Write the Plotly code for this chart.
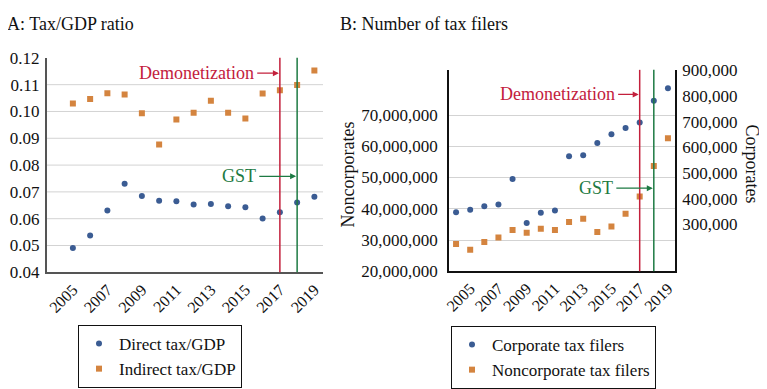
import plotly.graph_objects as go

# ---------------- data ----------------
years_a = [2005, 2006, 2007, 2008, 2009, 2010, 2011, 2012, 2013, 2014, 2015, 2016, 2017, 2018, 2019]
direct_tax_gdp = [0.0491, 0.0537, 0.0631, 0.0730, 0.0685, 0.0667, 0.0665, 0.0653, 0.0655,
                  0.0646, 0.0643, 0.0601, 0.0624, 0.0660, 0.0682]
indirect_tax_gdp = [0.1030, 0.1047, 0.1068, 0.1063, 0.0993, 0.0877, 0.0970, 0.0995, 0.1040,
                    0.0995, 0.0974, 0.1067, 0.1079, 0.1099, 0.1153]

years_b = [2004, 2005, 2006, 2007, 2008, 2009, 2010, 2011, 2012, 2013, 2014, 2015, 2016, 2017, 2018, 2019]
corporate_filers = [348000, 357000, 371000, 378000, 477000, 306000, 346000, 354000,
                    565000, 569000, 617000, 651000, 675000, 696000, 781000, 829000]
noncorporate_filers = [28.7e6, 26.9e6, 29.4e6, 30.8e6, 33.2e6, 32.3e6, 33.6e6, 33.2e6,
                       35.8e6, 36.8e6, 32.6e6, 34.3e6, 38.4e6, 43.9e6, 53.7e6, 62.6e6]

tick_years = [2005, 2007, 2009, 2011, 2013, 2015, 2017, 2019]
ratio_ticks = [0.04, 0.05, 0.06, 0.07, 0.08, 0.09, 0.10, 0.11, 0.12]
ratio_tick_text = ["0.04", "0.05", "0.06", "0.07", "0.08", "0.09", "0.10", "0.11", "0.12"]
ratio_grid = [0.05, 0.06, 0.07, 0.08, 0.09, 0.10, 0.11]
noncorp_ticks = [20e6, 30e6, 40e6, 50e6, 60e6, 70e6]
corp_ticks = [300000, 400000, 500000, 600000, 700000, 800000, 900000]

demonetization_year = 2017
gst_year = 2018

# ---------------- style ----------------
# the page body has an 8px margin, so the figure is drawn 8px in from the window edge
OFF = 8
W, H = 767 - OFF, 389 - OFF
FONT = "Liberation Serif"
BLUE = "#3b5c93"
ORANGE = "#d4843f"
RED = "#c3203c"
GREEN = "#1d7a43"
GRID = "#d3d3d3"


def px(x):
    return (x - OFF) / W


def py(y):
    return 1 - (y - OFF) / H


fig = go.Figure()

fig.add_trace(go.Scatter(x=years_a, y=direct_tax_gdp, mode="markers", name="Direct tax/GDP",
                         marker=dict(symbol="circle", size=6, color=BLUE),
                         xaxis="x", yaxis="y", legend="legend"))
fig.add_trace(go.Scatter(x=years_a, y=indirect_tax_gdp, mode="markers", name="Indirect tax/GDP",
                         marker=dict(symbol="square", size=6, color=ORANGE),
                         xaxis="x", yaxis="y", legend="legend"))
fig.add_trace(go.Scatter(x=years_b, y=corporate_filers, mode="markers", name="Corporate tax filers",
                         marker=dict(symbol="circle", size=6, color=BLUE),
                         xaxis="x2", yaxis="y3", legend="legend2"))
fig.add_trace(go.Scatter(x=years_b, y=noncorporate_filers, mode="markers", name="Noncorporate tax filers",
                         marker=dict(symbol="square", size=6, color=ORANGE),
                         xaxis="x2", yaxis="y2", legend="legend2"))

xcommon = dict(range=[2003.5, 2019.5], tickvals=tick_years, tickangle=-45, ticks="",
               showgrid=False, zeroline=False, automargin=False,
               tickfont=dict(family=FONT, size=16, color="#111"))

fig.update_layout(
    width=W, height=H,
    margin=dict(l=0, r=0, t=0, b=0),
    paper_bgcolor="white", plot_bgcolor="white",
    font=dict(family=FONT, size=17, color="#111"),
    xaxis=dict(domain=[px(47), px(323)], anchor="y", showline=True, linecolor="#555",
               linewidth=2, **xcommon),
    yaxis=dict(domain=[py(273), py(58)], anchor="x", range=[0.04, 0.12], tickvals=ratio_ticks,
               ticktext=ratio_tick_text, showgrid=False, zeroline=False, showline=True,
               linecolor="#555", linewidth=2, ticks="", ticklabelstandoff=2, automargin=False,
               tickfont=dict(family=FONT, size=17, color="#111")),
    xaxis2=dict(domain=[px(449), px(675)], anchor="y2", showline=True, linecolor="#111",
                linewidth=1.5, **xcommon),
    yaxis2=dict(domain=[py(272), py(70)], anchor="x2", range=[20e6, 84.45e6], tickvals=noncorp_ticks,
                tickformat=",", showgrid=True, gridcolor=GRID, gridwidth=1, zeroline=False,
                showline=True, linecolor="#111", linewidth=1.5, ticks="", ticklabelstandoff=6,
                automargin=False, tickfont=dict(family=FONT, size=17, color="#111")),
    yaxis3=dict(overlaying="y2", side="right", anchor="x2", range=[118000, 901000], tickvals=corp_ticks,
                tickformat=",", showgrid=False, zeroline=False, showline=True, linecolor="#111",
                linewidth=1.5, ticks="", ticklabelstandoff=2, automargin=False,
                tickfont=dict(family=FONT, size=17, color="#111")),
    legend=dict(x=px(78), y=py(325), xanchor="left", yanchor="top", bordercolor="#111", borderwidth=1,
                bgcolor="white", font=dict(family=FONT, size=17, color="#111"), itemwidth=30,
                tracegroupgap=0),
    legend2=dict(x=px(451), y=py(327), xanchor="left", yanchor="top", bordercolor="#111", borderwidth=1,
                 bgcolor="white", font=dict(family=FONT, size=17, color="#111"), itemwidth=30,
                 tracegroupgap=0),
    showlegend=True,
)

shapes = []
for g in ratio_grid:
    shapes.append(dict(type="line", xref="x domain", yref="y", x0=0, x1=1, y0=g, y1=g,
                       line=dict(color=GRID, width=1), layer="below"))
for xr, yr in [("x", "y domain"), ("x2", "y2 domain")]:
    shapes.append(dict(type="line", xref=xr, yref=yr, x0=demonetization_year, x1=demonetization_year,
                       y0=0, y1=1, line=dict(color=RED, width=1.5)))
    shapes.append(dict(type="line", xref=xr, yref=yr, x0=gst_year, x1=gst_year,
                       y0=0, y1=1, line=dict(color=GREEN, width=1.5)))
fig.update_layout(shapes=shapes)

annotations = [
    dict(text="A: Tax/GDP ratio", xref="paper", yref="paper", x=px(5), y=py(24), xanchor="left",
         yanchor="middle", showarrow=False, font=dict(family=FONT, size=18, color="#111")),
    dict(text="B: Number of tax filers", xref="paper", yref="paper", x=px(338), y=py(24),
         xanchor="left", yanchor="middle", showarrow=False, font=dict(family=FONT, size=18, color="#111")),
    dict(text="Noncorporates", xref="paper", yref="paper", x=px(348), y=py(175), textangle=-90,
         xanchor="center", yanchor="middle", showarrow=False, font=dict(family=FONT, size=18, color="#111")),
    dict(text="Corporates", xref="paper", yref="paper", x=px(752), y=py(164), textangle=90,
         xanchor="center", yanchor="middle", showarrow=False, font=dict(family=FONT, size=18, color="#111")),
]


def label_arrow(xref, yref, text, color, tail_x, head_x, yv):
    return [
        dict(text=text, xref=xref, yref=yref, x=tail_x, y=yv, xanchor="right", yanchor="middle",
             showarrow=False, font=dict(family=FONT, size=18, color=color)),
        dict(text="", xref=xref, yref=yref, x=head_x, y=yv, axref=xref, ayref=yref, ax=tail_x, ay=yv,
             showarrow=True, arrowhead=2, arrowsize=1, arrowwidth=1.2, arrowcolor=color, standoff=1),
    ]


annotations += label_arrow("x", "y", "Demonetization", RED, 2015.6, demonetization_year, 0.1143)
annotations += label_arrow("x", "y", "GST", GREEN, 2015.72, gst_year, 0.0758)
annotations += label_arrow("x2", "y2", "Demonetization", RED, 2015.37, demonetization_year, 76.6e6)
annotations += label_arrow("x2", "y2", "GST", GREEN, 2015.24, gst_year, 46.6e6)
fig.update_layout(annotations=annotations)

fig.write_html("out.html")
